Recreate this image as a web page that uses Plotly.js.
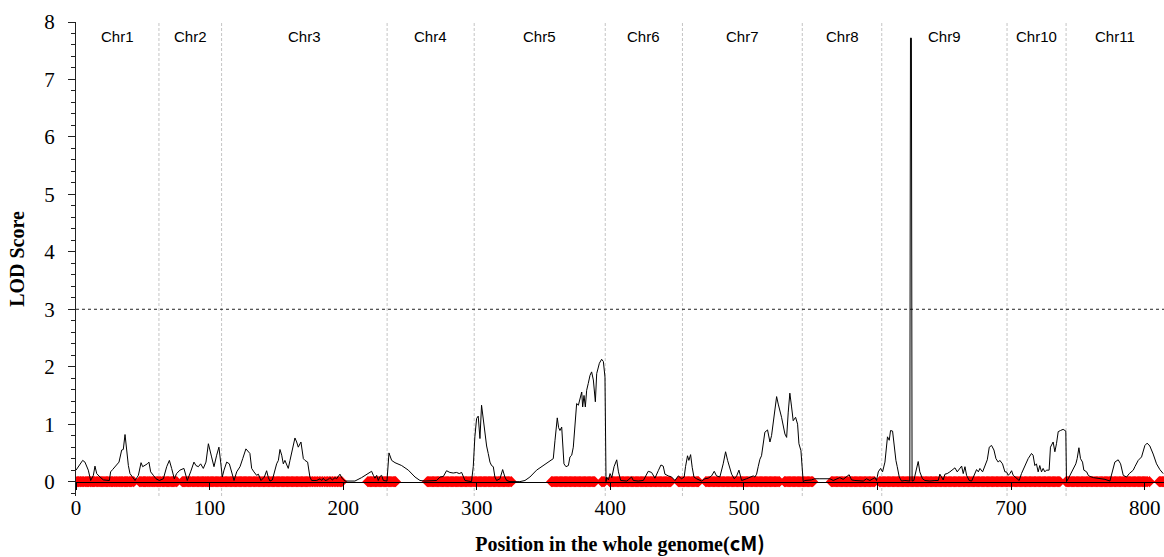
<!DOCTYPE html>
<html>
<head>
<meta charset="utf-8">
<script src="https://cdn.plot.ly/plotly-3.0.1.min.js"></script>
<style>html,body{margin:0;padding:0;background:#fff;}#chart{width:1164px;height:557px;}</style>
</head>
<body>
<div id="chart"></div>
<script>
// Chromosome boundaries (cM) and names
const chrBounds = [0, 62.1, 109.0, 232.9, 298.1, 396.2, 454.0, 543.7, 603.2, 697.0, 741.2, 814.5];
const chrNames = ["Chr1","Chr2","Chr3","Chr4","Chr5","Chr6","Chr7","Chr8","Chr9","Chr10","Chr11"];
const threshold = 3;
const xTicks = [0,100,200,300,400,500,600,700,800];

// LOD profile: position (cM) and LOD score
const lodPos = [
0,1.7,5.0,6.7,9.2,11.0,13.0,14.2,15.5,18.0,20.5,25.0,25.9,27.4,29.2,30.4,32.2,34.2,35.4,36.7,37.9,39.2,40.4,44.2,46.7,48.7,49.9,51.6,53.4,54.6,55.9,57.9,59.9,62.4,
65.4,67.9,69.9,71.6,73.6,75.3,77.8,80.8,83.3,85.8,88.3,89.8,91.6,93.3,95.3,97.3,99.1,101.5,103.3,105.3,107.0,108.3,109.5,
110.8,112.8,114.8,116.5,118.3,120.3,122.8,124.8,127.2,130.2,131.5,133.2,135.2,136.5,138.5,141.0,142.7,144.0,145.2,147.0,149.0,150.2,151.5,152.7,154.0,155.2,156.4,157.7,158.9,160.2,161.9,163.9,165.2,166.4,168.4,170.2,171.4,173.4,175.1,176.4,180.2,182.7,183.9,185.1,186.4,188.4,190.1,191.9,193.9,195.1,197.6,199.4,201.4,208.8,213.8,217.6,221.3,222.6,223.8,225.1,226.3,227.6,228.8,230.1,232.8,
234.3,236.3,238.8,243.8,248.8,253.8,257.5,261.3,270.0,272.5,275.0,277.4,279.9,282.4,284.9,286.9,288.7,289.9,291.2,296.1,
297.4,298.6,299.9,301.1,302.4,303.6,304.9,306.1,307.4,308.6,309.9,311.1,312.4,313.6,314.9,317.4,319.4,321.1,322.4,324.8,332.3,336.1,339.8,344.8,349.8,353.6,357.3,358.6,360.3,361.3,362.3,363.6,364.3,365.3,366.8,368.6,369.8,371.1,372.3,373.6,374.8,376.1,377.3,378.6,379.3,380.3,381.3,382.3,383.5,384.8,386.0,387.3,388.8,389.8,391.8,393.5,394.8,396.0,396.8,
397.3,398.6,399.8,401.1,402.8,404.8,406.1,407.8,412.3,413.4,415.9,417.2,420.9,424.7,426.4,428.4,430.9,433.4,435.9,437.9,439.6,440.9,443.4,445.9,448.4,450.9,453.3,
455.3,456.3,457.8,458.8,460.1,461.3,462.6,464.6,468.3,470.8,473.3,475.8,477.8,479.5,482.0,484.5,486.3,487.8,489.6,490.8,492.8,494.6,496.3,498.3,502.0,504.5,507.0,508.2,509.5,510.7,512.0,513.2,514.5,515.7,517.7,518.7,519.5,520.7,522.7,524.5,525.7,528.2,530.7,532.0,533.2,534.4,535.7,536.9,538.7,540.2,541.2,542.7,544.4,
545.7,550.6,553.1,556.9,564.4,566.9,569.4,571.8,574.3,576.8,578.8,580.6,583.1,589.4,591.8,594.3,598.1,599.3,
600.6,602.3,603.8,605.6,607.5,608.8,609.8,611.3,612.3,613.8,614.8,616.3,618.0,620.5,624.2,624.7,625.4,625.9,627.2,628.7,630.5,631.7,633.7,635.5,639.2,643.0,645.5,646.7,648.0,649.2,650.5,652.2,654.2,656.2,658.0,659.7,661.2,663.0,664.2,665.5,666.7,668.7,670.5,671.7,673.0,674.2,675.5,676.7,678.7,680.4,682.2,683.7,685.4,687.2,688.7,690.4,691.6,693.6,695.4,696.6,
697.9,699.1,700.4,701.6,702.9,704.1,706.1,707.8,710.3,712.8,715.3,716.5,717.8,719.0,720.3,721.5,722.8,724.0,725.3,726.5,728.5,729.5,731.5,732.8,734.0,735.3,737.0,739.0,741.0,741.5,
742.8,744.0,746.5,748.5,749.5,750.8,752.0,753.5,754.5,756.6,757.8,759.1,761.6,766.5,770.3,774.0,776.0,777.7,780.2,782.0,784.0,786.5,788.5,790.2,791.5,792.7,795.2,797.7,800.2,801.9,803.9,806.4,808.9,811.4,813.9
];
const lodVal = [
0.20,0.26,0.37,0.34,0.20,0.02,0.11,0.27,0.14,0.08,0.03,0.02,0.17,0.21,0.26,0.28,0.34,0.55,0.56,0.82,0.55,0.28,0.14,0.02,0.11,0.33,0.26,0.28,0.31,0.34,0.17,0.11,0.05,0.02,
0.05,0.26,0.37,0.23,0.05,0.14,0.20,0.23,0.02,0.17,0.34,0.28,0.26,0.31,0.23,0.34,0.66,0.43,0.26,0.46,0.60,0.34,0.08,
0.20,0.34,0.31,0.17,0.02,0.17,0.26,0.40,0.57,0.49,0.23,0.17,0.11,0.13,0.02,0.08,0.19,0.07,0.01,0.03,0.20,0.31,0.37,0.56,0.46,0.31,0.37,0.28,0.23,0.37,0.55,0.76,0.69,0.60,0.69,0.40,0.37,0.34,0.08,0.02,0.02,0.05,0.02,0.06,0.02,0.03,0.07,0.03,0.07,0.05,0.13,0.05,0.01,0.01,0.07,0.13,0.18,0.11,0.06,0.11,0.02,0.09,0.11,0.02,0.01,
0.50,0.37,0.33,0.28,0.20,0.08,0.02,0.01,0.02,0.08,0.09,0.19,0.16,0.15,0.16,0.14,0.16,0.09,0.02,0.00,
0.26,0.78,1.10,1.14,0.75,1.33,1.07,0.78,0.62,0.49,0.34,0.28,0.26,0.08,0.02,0.05,0.21,0.08,0.02,0.00,0.00,0.02,0.08,0.20,0.28,0.33,0.40,0.72,1.11,0.94,0.89,0.95,0.72,0.31,0.26,0.28,0.43,0.46,0.60,1.07,1.36,1.33,1.42,1.56,1.30,1.50,1.30,1.59,1.71,1.85,1.91,1.77,1.39,1.88,2.06,2.13,2.09,1.82,0.00,
0.08,0.03,0.14,0.07,0.26,0.38,0.17,0.02,0.01,0.03,0.08,0.02,0.01,0.02,0.10,0.18,0.16,0.06,0.19,0.29,0.27,0.13,0.10,0.08,0.02,0.10,0.05,
0.08,0.26,0.45,0.37,0.47,0.25,0.08,0.05,0.01,0.05,0.06,0.10,0.18,0.10,0.08,0.31,0.52,0.37,0.22,0.13,0.05,0.10,0.20,0.02,0.05,0.08,0.10,0.08,0.13,0.26,0.39,0.45,0.71,0.86,0.90,0.75,0.69,0.80,1.12,1.48,1.35,1.12,0.83,0.77,1.21,1.54,1.30,1.06,1.12,1.00,0.66,0.54,0.00,
0.02,0.03,0.05,0.05,0.05,0.02,0.05,0.07,0.04,0.09,0.12,0.03,0.02,0.01,0.05,0.02,0.07,0.02,
0.17,0.23,0.17,0.34,0.78,0.72,0.89,0.88,0.66,0.37,0.26,0.08,0.01,0.02,0.01,7.72,7.72,0.01,0.02,0.20,0.35,0.17,0.05,0.02,0.01,0.02,0.02,0.13,0.08,0.03,0.13,0.14,0.17,0.20,0.24,0.17,0.21,0.27,0.14,0.26,0.11,0.02,0.01,0.08,0.13,0.21,0.17,0.23,0.17,0.26,0.38,0.60,0.63,0.55,0.40,0.34,0.37,0.31,0.17,0.17,
0.11,0.14,0.19,0.11,0.08,0.07,0.02,0.14,0.28,0.40,0.49,0.46,0.28,0.31,0.17,0.28,0.17,0.23,0.17,0.20,0.20,0.60,0.69,0.52,0.66,0.87,0.89,0.91,0.88,0.00,
0.05,0.11,0.23,0.31,0.40,0.59,0.40,0.34,0.20,0.17,0.11,0.09,0.07,0.05,0.04,0.01,0.20,0.34,0.38,0.31,0.11,0.08,0.14,0.17,0.20,0.26,0.37,0.43,0.63,0.67,0.62,0.48,0.31,0.21,0.14
];

// Marker positions (cM) along the genome
const markerPos = [
0,1.2,1.9,3.0,3.7,4.6,5.5,6.8,7.6,8.5,9.4,10.6,11.3,12.4,13.2,14.0,15.1,16.2,17.2,18.1,19.0,20.0,20.9,21.8,22.8,23.6,24.7,25.5,26.6,27.4,28.5,29.3,30.4,31.4,32.3,33.1,34.2,35.0,36.1,37.1,38.0,38.8,39.9,40.9,41.8,43.2,
47.6,48.5,49.4,50.5,51.3,52.2,53.2,54.0,55.1,56.1,57.0,57.8,58.9,59.9,60.8,61.6,62.7,63.5,64.6,65.4,66.5,67.5,68.4,69.2,70.3,71.3,72.2,73.1,74.1,75.4,
79.6,80.5,81.4,82.3,83.3,84.2,85.2,86.0,87.1,88.1,89.0,89.9,90.9,91.8,92.8,93.7,94.7,95.6,96.6,97.4,98.5,99.4,100.4,101.3,102.3,103.2,104.2,105.1,106.1,107.0,108.0,108.9,109.9,110.8,111.8,112.7,113.7,114.6,115.6,116.5,117.5,118.4,119.4,120.3,121.3,122.2,123.2,124.1,125.1,126.0,127.0,127.9,128.9,129.8,130.8,131.7,132.7,133.6,134.6,135.5,136.5,137.4,138.4,139.3,140.3,141.2,142.2,143.1,144.1,145.0,146.0,146.9,147.9,148.8,149.8,150.7,151.7,152.6,153.6,154.5,155.5,156.4,157.4,158.3,159.3,160.2,161.2,162.1,163.1,164.0,165.0,165.9,166.9,167.8,168.8,169.7,170.7,171.6,172.6,173.5,174.5,
175.8,177.0,178.3,179.6,180.8,182.1,183.3,184.5,185.9,187.2,188.4,189.6,190.8,192.0,193.3,194.5,195.7,196.9,198.0,199.0,
218.5,219.4,220.4,221.3,222.3,223.2,224.2,225.1,226.1,227.0,228.0,228.9,229.9,230.8,231.8,232.7,233.7,234.6,235.6,236.5,237.5,238.4,239.2,
263.0,263.9,264.9,265.8,266.8,267.7,268.7,269.6,270.6,271.5,272.5,273.4,274.4,275.3,276.3,277.2,278.2,279.1,280.1,281.0,282.0,282.9,283.9,284.8,285.8,286.7,287.7,288.6,289.6,290.5,291.5,292.4,293.4,294.3,295.3,296.2,297.2,298.1,299.1,300.0,301.0,301.9,302.9,303.8,304.8,305.7,306.7,307.6,308.6,309.5,310.5,311.4,312.4,313.3,314.3,315.2,316.2,317.1,318.1,319.0,320.0,320.9,321.9,322.8,323.8,324.8,325.9,
356.0,356.9,357.9,358.8,359.8,360.7,361.7,362.6,363.6,364.5,365.5,366.4,367.4,368.3,369.3,370.2,371.2,372.1,373.1,374.0,375.0,375.9,376.9,377.8,378.8,379.7,380.7,381.6,382.6,383.5,384.5,385.4,386.4,387.3,388.3,393.6,394.5,395.4,399.6,400.5,401.5,402.4,403.4,404.3,405.3,406.2,407.2,408.1,409.1,410.0,411.0,411.9,412.9,413.8,414.8,415.7,416.7,417.6,418.6,419.5,420.5,421.4,422.4,423.3,424.3,425.2,426.2,427.1,428.1,429.0,430.0,430.9,431.9,432.8,433.8,434.7,435.7,436.6,437.6,438.5,439.5,440.4,441.4,442.3,443.3,444.2,445.2,451.0,451.9,452.9,453.8,454.8,455.7,456.7,457.6,458.6,459.5,460.5,461.4,462.4,463.3,464.3,465.2,466.0,
471.5,472.4,473.4,474.3,475.3,476.2,477.2,478.1,479.1,480.0,481.0,481.9,482.9,483.8,484.8,485.7,486.7,487.6,488.6,489.5,490.5,491.4,492.4,493.3,494.3,495.2,496.2,497.1,498.1,499.0,500.0,500.9,501.9,502.8,503.8,504.7,505.7,506.6,507.6,508.5,509.5,510.4,511.4,512.3,513.3,514.2,515.2,516.1,517.1,518.0,519.0,519.9,520.9,521.8,522.8,523.7,524.7,525.6,526.6,530.4,531.3,532.3,533.2,534.2,535.1,536.1,537.0,538.0,538.9,539.9,540.8,541.8,542.7,543.7,544.6,545.6,546.5,547.5,548.4,549.4,550.5,551.5,
565.5,566.4,567.4,568.3,569.3,570.2,571.2,572.1,573.1,574.0,575.0,575.9,576.9,577.8,578.8,579.7,580.7,581.6,582.6,583.5,584.5,585.4,586.4,587.3,588.3,589.2,590.2,591.1,592.1,593.0,594.0,594.9,595.9,596.8,597.8,601.6,602.5,603.5,604.4,605.4,606.3,607.3,608.2,609.2,610.1,611.1,612.0,613.0,613.9,614.9,615.8,616.8,617.7,618.7,619.6,620.6,621.5,622.5,623.4,624.4,625.3,626.3,627.2,628.2,629.1,630.1,631.0,632.0,632.9,633.9,634.8,635.8,636.7,637.7,638.6,639.6,640.5,641.5,642.4,643.4,644.3,645.3,646.2,647.2,648.1,649.1,650.0,651.0,651.9,652.9,653.8,654.8,655.7,656.7,657.6,658.6,659.5,660.5,661.4,662.4,663.3,664.3,665.2,666.2,667.1,668.1,669.0,670.0,670.9,671.9,672.8,673.8,674.7,675.7,676.6,677.6,678.5,679.5,680.4,681.4,682.3,683.3,684.2,685.2,686.1,687.1,688.0,689.0,689.9,690.9,691.8,692.8,693.7,694.7,695.6,696.6,697.5,698.5,699.4,700.4,701.3,702.3,703.2,704.2,705.1,706.1,707.0,708.0,708.9,709.9,710.8,711.8,712.7,713.7,714.6,715.6,716.5,717.5,718.4,719.4,720.3,721.3,722.2,723.2,724.1,725.1,726.0,727.0,727.9,728.9,729.8,730.8,731.7,732.7,733.6,734.6,735.5,736.5,
741.2,742.1,743.1,744.0,745.0,745.9,746.9,747.8,748.8,749.7,750.7,751.6,752.6,753.5,754.5,755.4,756.4,757.3,758.3,759.2,760.2,761.1,762.1,763.0,764.0,764.9,765.9,766.8,767.8,768.7,769.7,770.6,771.6,772.5,773.5,774.4,775.4,776.3,777.3,778.2,779.2,780.1,781.1,782.0,783.0,783.9,784.9,785.8,786.8,787.7,788.7,789.6,790.6,791.5,792.5,793.4,794.4,795.3,796.3,797.2,798.2,799.1,800.1,801.0,802.0,803.6,
811.0,811.9,812.9,813.6,814.3
];

const markerTrace = {
  x: markerPos,
  y: markerPos.map(() => 0),
  type: 'scatter', mode: 'markers',
  marker: {symbol: 'diamond', size: 8.5, color: '#ff0000', line: {width: 0}},
  hoverinfo: 'x', showlegend: false
};
const lodTrace = {
  x: lodPos, y: lodVal,
  type: 'scatter', mode: 'lines',
  line: {color: '#000000', width: 1},
  showlegend: false
};

const shapes = [];
for (let i = 1; i < chrBounds.length - 1; i++) {
  shapes.push({type: 'line', xref: 'x', yref: 'paper', x0: chrBounds[i], x1: chrBounds[i], y0: 0, y1: 1,
    line: {color: '#c4c4c4', width: 1, dash: '3px,2px'}, layer: 'below'});
}
shapes.push({type: 'line', xref: 'paper', yref: 'y', x0: 0, x1: 1, y0: threshold, y1: threshold,
  line: {color: '#222222', width: 1, dash: 'dot'}, layer: 'below'});

const annotations = chrNames.map((n, i) => ({
  x: (chrBounds[i] + chrBounds[i + 1]) / 2, y: 7.75, xref: 'x', yref: 'y',
  text: n, showarrow: false,
  font: {family: 'Liberation Sans, Arial, sans-serif', size: 15, color: '#000'}
}));

const serif = 'Liberation Serif, Times New Roman, serif';
const yMin = -0.25, yMax = 8;

const layout = {
  width: 1164, height: 557,
  margin: {l: 76, r: 0, t: 22, b: 61, pad: 0},
  paper_bgcolor: '#fff', plot_bgcolor: '#fff',
  showlegend: false,
  xaxis: {
    range: [0, 814.5], anchor: 'free', position: (0 - yMin) / (yMax - yMin),
    showgrid: false, zeroline: false,
    showline: true, linecolor: '#000', linewidth: 1,
    tickmode: 'array', tickvals: xTicks, ticktext: xTicks.map(String),
    ticks: 'outside', ticklen: 7, tickcolor: '#000', tickwidth: 1,
    tickfont: {family: serif, size: 21, color: '#000'},
    layer: 'above traces',
    title: {text: 'Position in the whole genome(<span style="font-family:Noto Sans CJK SC">cM)</span>',
      font: {family: serif, size: 20, color: '#000', weight: 'bold'}, standoff: 20}
  },
  yaxis: {
    range: [yMin, yMax],
    showgrid: false, zeroline: false,
    showline: true, linecolor: '#222', linewidth: 1,
    tick0: 0, dtick: 1,
    ticks: 'outside', ticklen: 7, tickcolor: '#222', tickwidth: 1,
    ticklabelstandoff: 9,
    minor: {tick0: 0, dtick: 0.2, ticks: 'outside', ticklen: 4, tickcolor: '#222', tickwidth: 1, showgrid: false},
    tickfont: {family: serif, size: 21, color: '#000'},
    title: {text: 'LOD Score', font: {family: serif, size: 20, color: '#000', weight: 'bold'}, standoff: 14}
  },
  shapes: shapes,
  annotations: annotations
};

Plotly.newPlot('chart', [markerTrace, lodTrace], layout, {displayModeBar: false, staticPlot: true});
</script>
</body>
</html>
